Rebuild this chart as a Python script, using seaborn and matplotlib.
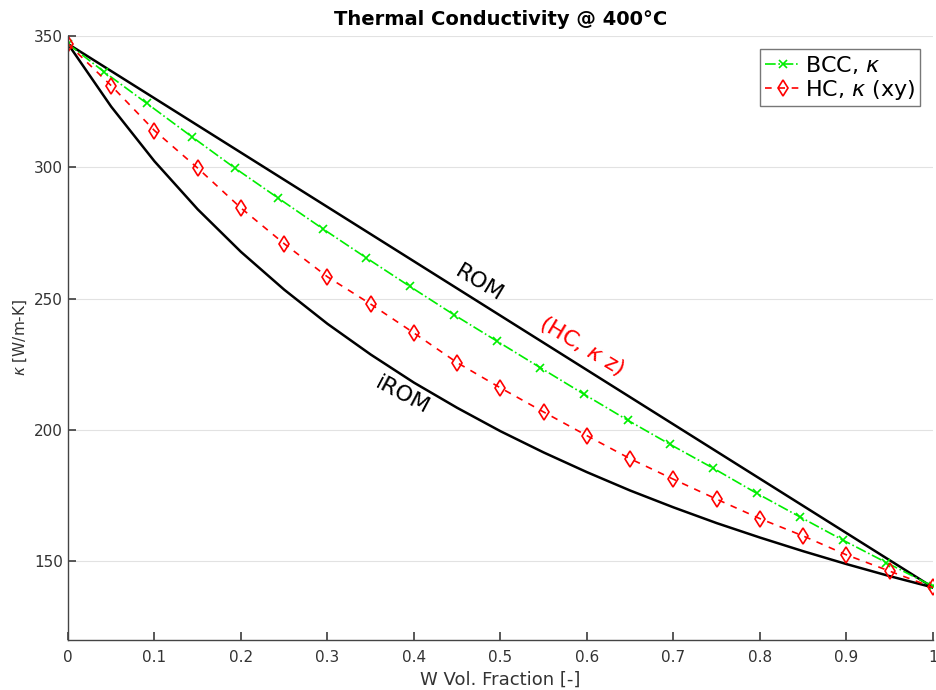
import numpy as np
import pandas as pd
import matplotlib
matplotlib.use("Agg")
import matplotlib.pyplot as plt
import seaborn as sns

# values
rom_x = [0.0, 1.0]
rom_k = [347.0, 140.0]

irom_x = [0.0, 0.05, 0.1, 0.15, 0.2, 0.25, 0.3, 0.35, 0.4, 0.45, 0.5,
          0.55, 0.6, 0.65, 0.7, 0.75, 0.8, 0.85, 0.9, 0.95, 1.0]
irom_k = [347.0, 323.1, 302.3, 284.0, 267.8, 253.4, 240.4, 228.7, 218.0, 208.4, 199.5,
          191.4, 183.9, 176.9, 170.5, 164.5, 159.0, 153.8, 148.9, 144.3, 140.0]

bcc_x = [0.0, 0.042, 0.091, 0.143, 0.193, 0.243, 0.295, 0.345, 0.395, 0.446, 0.496,
         0.546, 0.597, 0.647, 0.696, 0.746, 0.796, 0.846, 0.896, 0.946, 1.0]
bcc_k = [347.0, 336.3, 324.4, 311.7, 299.7, 288.3, 276.5, 265.5, 254.7, 243.9, 233.8,
         223.7, 213.5, 203.7, 194.5, 185.4, 175.9, 166.9, 158.0, 149.5, 140.4]

hc_x = [0.0, 0.05, 0.1, 0.15, 0.2, 0.25, 0.3, 0.35, 0.4, 0.45, 0.5,
        0.55, 0.6, 0.65, 0.7, 0.75, 0.8, 0.85, 0.9, 0.95, 1.0]
hc_k = [347.0, 331.1, 314.0, 299.7, 284.5, 270.9, 258.3, 247.9, 236.9, 225.6, 216.0,
        206.8, 197.8, 189.0, 181.2, 173.6, 166.2, 159.6, 152.4, 146.2, 140.0]

x_ticks = [0, 0.1, 0.2, 0.3, 0.4, 0.5, 0.6, 0.7, 0.8, 0.9, 1]
x_tick_labels = ["0", "0.1", "0.2", "0.3", "0.4", "0.5", "0.6", "0.7", "0.8", "0.9", "1"]
y_ticks = [150, 200, 250, 300, 350]

sns.set_theme(style="ticks")
plt.rcParams['font.family'] = ['DejaVu Sans']
plt.rcParams['text.color'] = 'black'

fig, ax = plt.subplots(figsize=(9.36, 6.9), dpi=100)
fig.subplots_adjust(left=0.0726, right=0.9968, bottom=0.0725, top=0.9478)

sns.lineplot(x=rom_x, y=rom_k, color='black', linewidth=1.8, ax=ax)
sns.lineplot(x=irom_x, y=irom_k, color='black', linewidth=1.8, ax=ax)

sns.lineplot(x=bcc_x, y=bcc_k, color='#00ee00', linestyle='-.', linewidth=1.2,
             marker='x', markersize=6, markeredgewidth=1.2, markeredgecolor='#00ee00',
             label=r'BCC, $\kappa$', ax=ax)
sns.lineplot(x=hc_x, y=hc_k, color='#ff0000', linestyle=(0, (4, 4)), linewidth=1.2,
             marker='d', markersize=8, markerfacecolor='none', markeredgewidth=1.2,
             markeredgecolor='#ff0000', label=r'HC, $\kappa$ (xy)', ax=ax)

ax.text(0.475, 256, 'ROM', rotation=-31, fontsize=16, color='black', ha='center', va='center')
ax.text(0.387, 213, 'iROM', rotation=-28, fontsize=16, color='black', ha='center', va='center')
ax.text(0.594, 232, r'(HC, $\kappa$ z)', rotation=-31, fontsize=16, color='red',
        ha='center', va='center')

ax.set_xlim(0, 1)
ax.set_ylim(120, 350)
ax.set_xticks(x_ticks)
ax.set_xticklabels(x_tick_labels)
ax.set_yticks(y_ticks)
ax.yaxis.grid(True, color='#e2e2e2', linewidth=0.8)
ax.xaxis.grid(False)
ax.set_axisbelow(True)

for side in ['top', 'right']:
    ax.spines[side].set_visible(False)
for side in ['left', 'bottom']:
    ax.spines[side].set_color('#444444')
    ax.spines[side].set_linewidth(1.0)
ax.tick_params(direction='in', length=6, colors='#444444', labelsize=11, labelcolor='#333333')
ax.tick_params(axis='x', pad=7)

ax.set_title('Thermal Conductivity @ 400°C', fontsize=14, fontweight='bold', color='black', pad=8)
ax.set_xlabel('W Vol. Fraction [-]', fontsize=13, color='#333333', labelpad=4)
ax.set_ylabel(r'$\kappa$ [W/m-K]', fontsize=11, color='#333333', labelpad=4)

leg = ax.legend(loc='upper right', fontsize=16, frameon=True, fancybox=False,
                handlelength=1.6, handletextpad=0.2, borderpad=0.2, labelspacing=0.1,
                borderaxespad=0.6)
leg.get_frame().set_edgecolor('#555555')
leg.get_frame().set_linewidth(1.0)
for t in leg.get_texts():
    t.set_color('black')

fig.savefig('out.png', dpi=100)
